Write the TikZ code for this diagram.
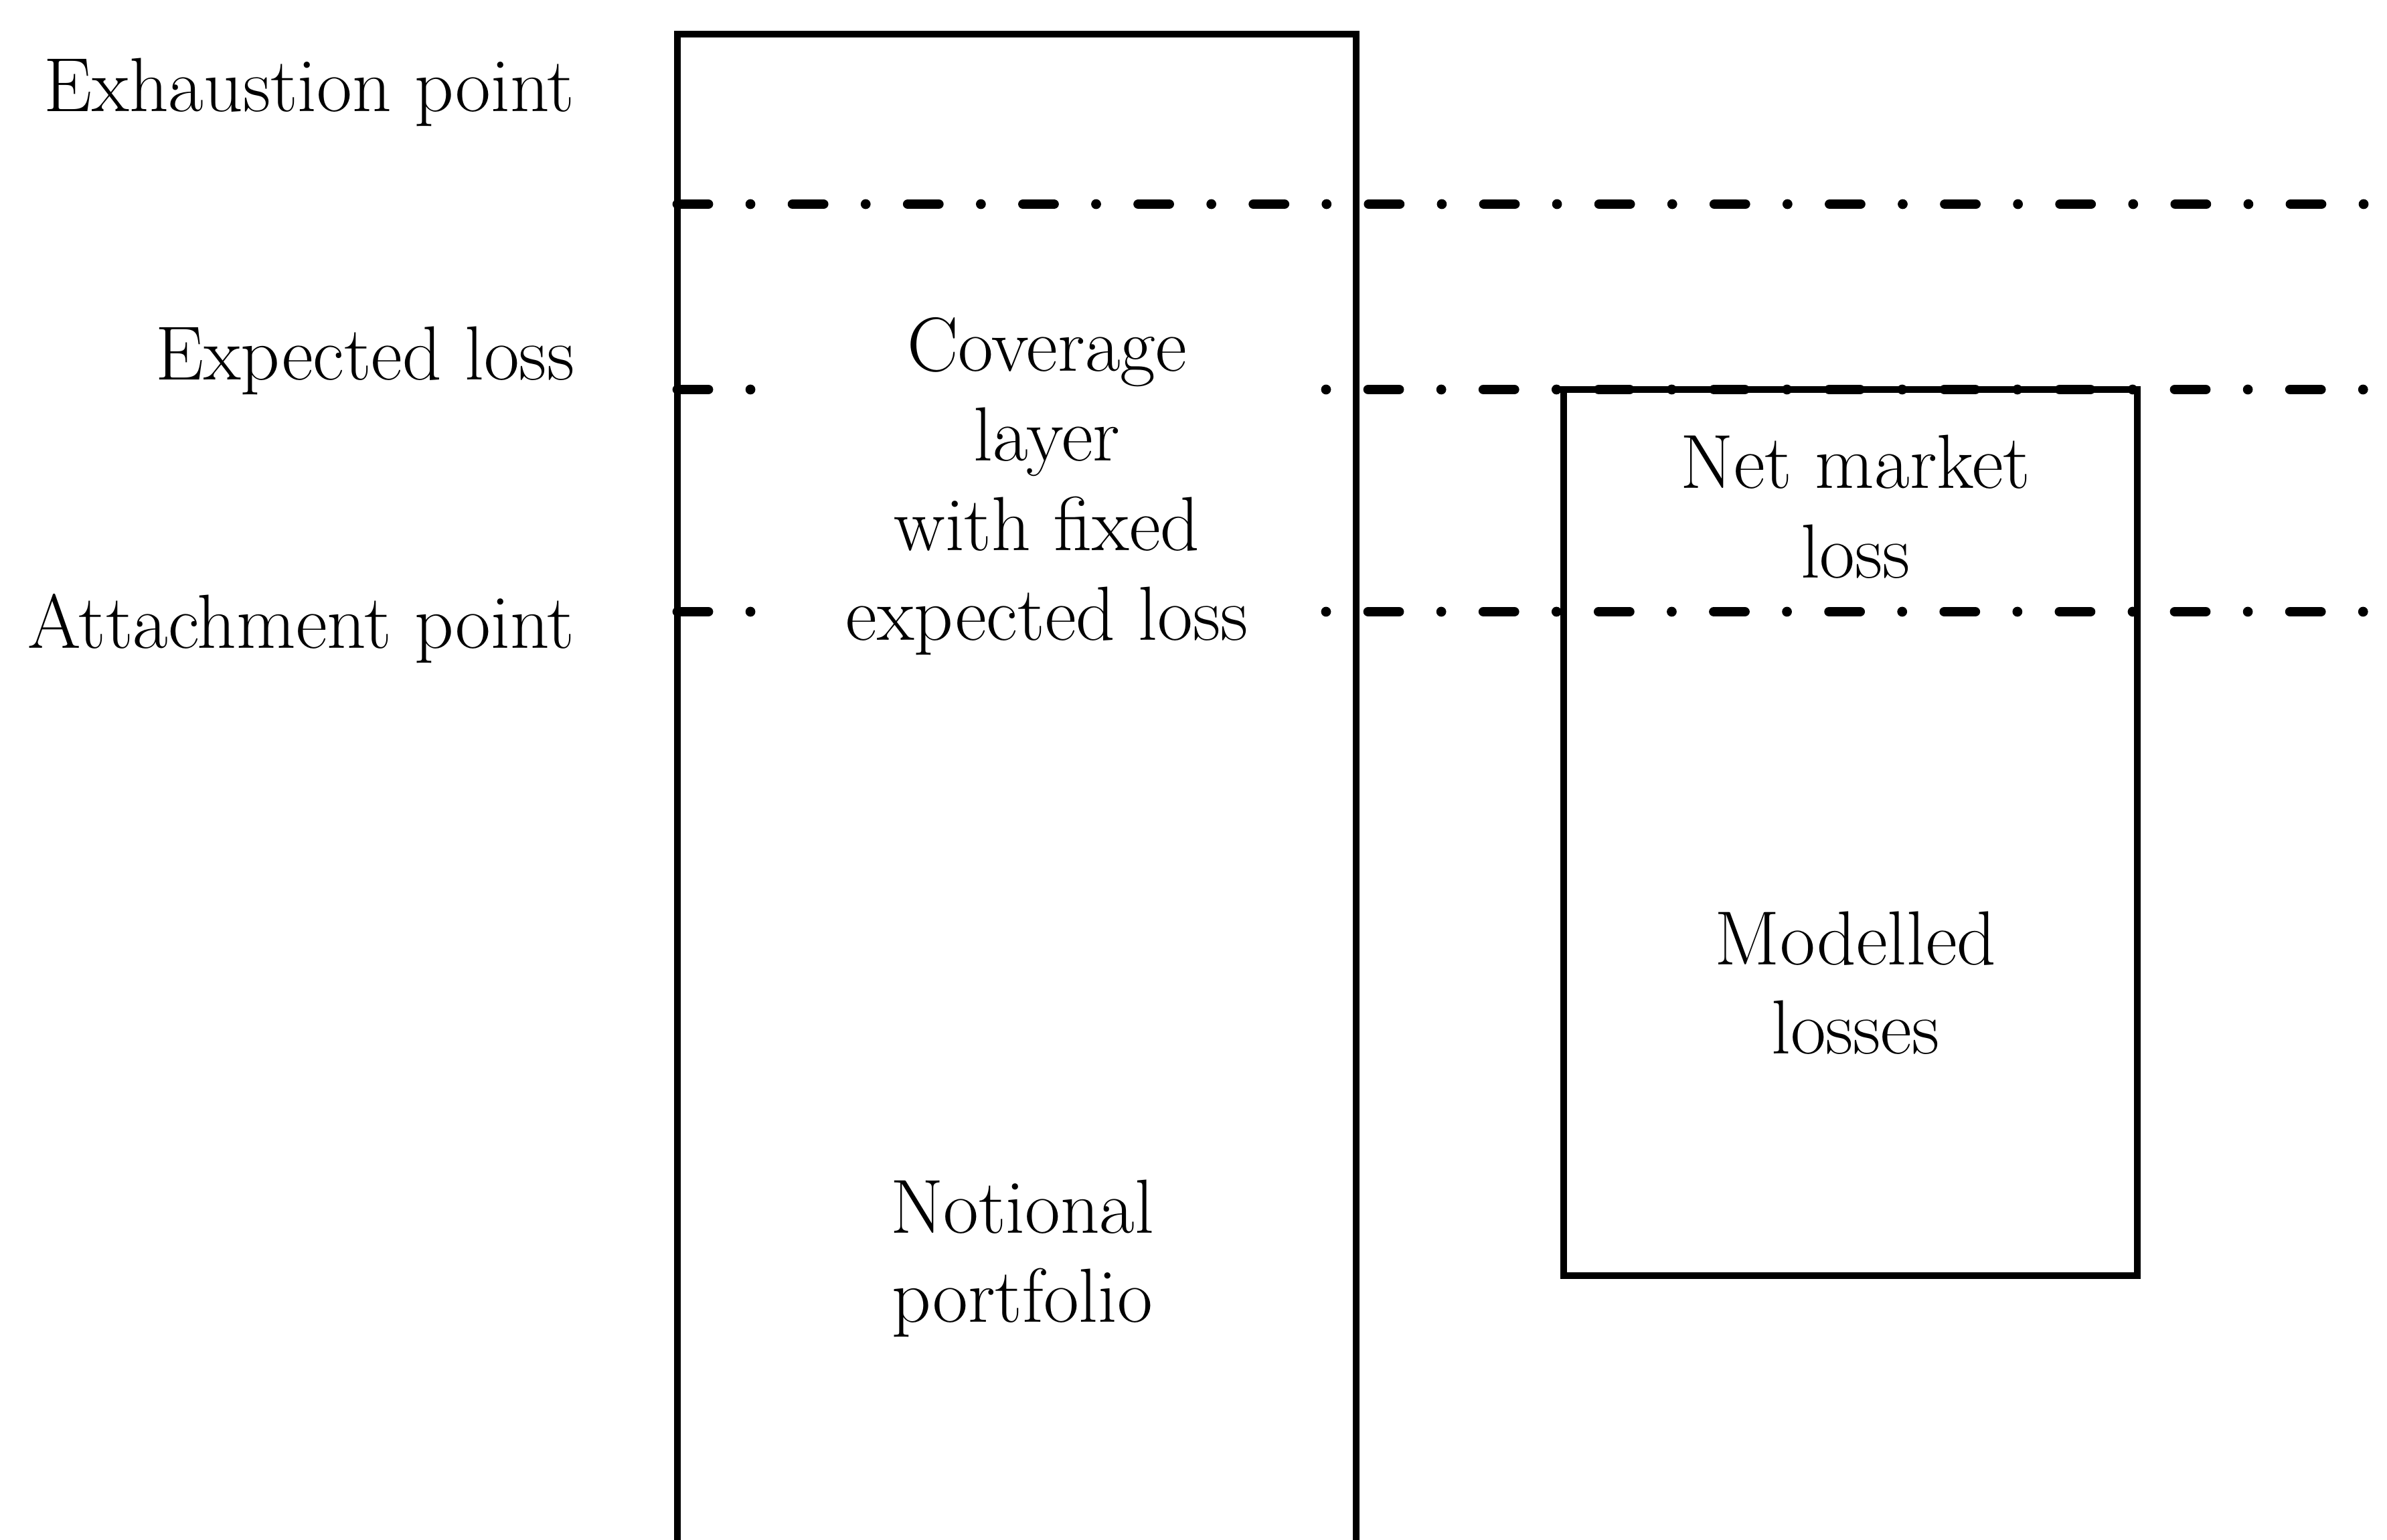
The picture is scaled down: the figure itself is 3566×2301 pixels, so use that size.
\documentclass[tikz,border=0pt]{standalone}
\begin{document}
\begin{tikzpicture}[x=0.01cm,y=-0.01cm,
  txt/.style={inner sep=0pt, anchor=base, font=\fontsize{32.6}{38.1}\selectfont},
  lbl/.style={txt, anchor=base east},
  frame/.style={line width=2.8pt, line join=miter},
  ddline/.style={line width=4.2pt, line cap=round, dash pattern=on 13.09pt off 17.93pt on 0pt off 17.93pt},
  ddlineR/.style={line width=4.2pt, line cap=round, dash pattern=on 0pt off 17.93pt on 13.09pt off 17.93pt}]
\useasboundingbox (0,0) rectangle (3566,2301);

% coordinates
\coordinate (tlb) at (1012,2301);
\coordinate (tlt) at (1012,51);
\coordinate (trt) at (2026,51);
\coordinate (trb) at (2026,2301);
\coordinate (rbtl) at (2336,582);
\coordinate (rbbr) at (3193,1906);

\coordinate (ex0) at (1012,305);  \coordinate (ex1) at (3566,305);
\coordinate (el0) at (1012,582);  \coordinate (el1) at (1125,582);
\coordinate (el2) at (1981,582);  \coordinate (el3) at (3566,582);
\coordinate (at0) at (1012,914);  \coordinate (at1) at (1125,914);
\coordinate (at2) at (1981,914);  \coordinate (at3) at (3566,914);

% dash-dot level lines
\draw[ddline] (ex0) -- (ex1);
\draw[ddline] (el0) -- (el1);
\draw[ddlineR] (el2) -- (el3);
\draw[ddline] (at0) -- (at1);
\draw[ddlineR] (at2) -- (at3);

% boxes
\draw[frame] (tlb) -- (tlt) -- (trt) -- (trb);
\draw[frame] (rbtl) rectangle (rbbr);

% level labels
\node[lbl] (exh) at (859,167) {Exhaustion point};
\node[lbl] (exl) at (859,568) {Expected loss};
\node[lbl] (att) at (859,969) {Attachment point};

% box texts
\node[txt] (cov) at (1564,555) {\begin{tabular}[t]{@{}c@{}}Coverage\\ layer\\ with fixed\\ expected loss\end{tabular}};
\node[txt] (net) at (2772,730) {\begin{tabular}[t]{@{}c@{}}Net market\\ loss\end{tabular}};
\node[txt] (mod) at (2772,1441) {\begin{tabular}[t]{@{}c@{}}Modelled\\ losses\end{tabular}};
\node[txt] (not) at (1527,1842) {\begin{tabular}[t]{@{}c@{}}Notional\\ portfolio\end{tabular}};
\end{tikzpicture}
\end{document}
